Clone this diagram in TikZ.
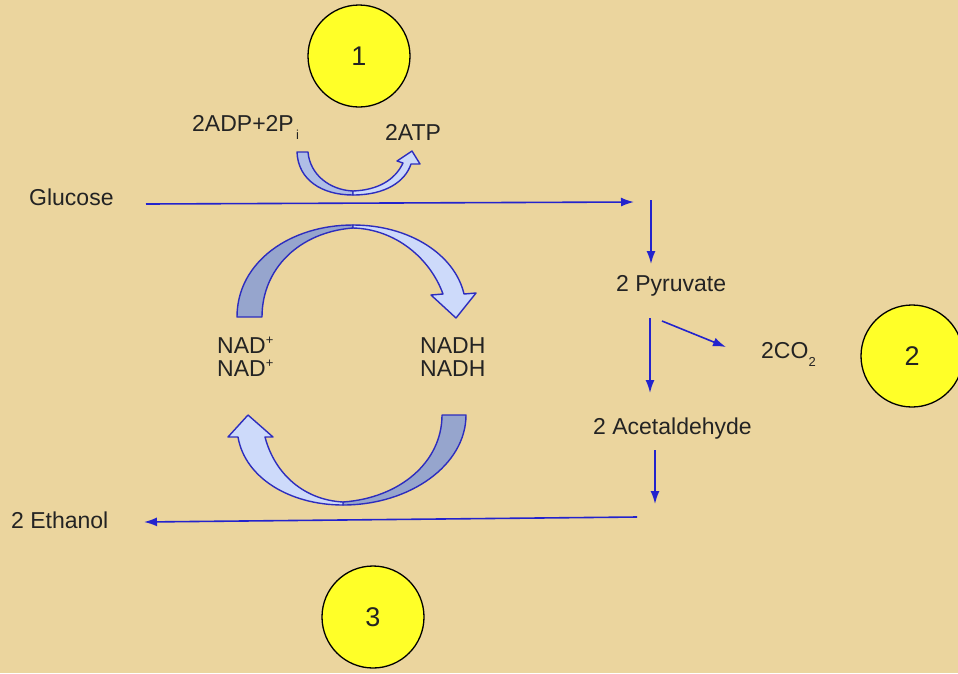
\documentclass[tikz,border=0pt]{standalone}
\usepackage{fontspec}
\setmainfont{Liberation Sans}
\usetikzlibrary{arrows.meta}
\definecolor{bg}{RGB}{235,213,158}
\definecolor{ink}{RGB}{35,35,35}
\definecolor{flowblue}{RGB}{35,35,205}
\definecolor{bandline}{RGB}{45,45,190}
\definecolor{bandlight}{RGB}{205,218,250}
\definecolor{banddark}{RGB}{150,165,205}
\definecolor{bandmid}{RGB}{175,190,230}
\definecolor{badge}{RGB}{255,255,40}
\newcommand{\lowsub}[1]{\raisebox{-0.38em}{\fontsize{13}{13}\selectfont #1}}
\newcommand{\smallsup}[1]{\raisebox{0.38em}{\fontsize{13}{13}\selectfont #1}}
\begin{document}
\begin{tikzpicture}[x=1pt,y=-1pt,
  font=\fontsize{23}{23}\selectfont,
  lbl/.style={inner sep=0pt, text=ink, anchor=base west},
  badgecirc/.style={circle, draw=black, line width=1.3pt, fill=badge, minimum size=102pt, inner sep=0pt, text=ink, font=\fontsize{27}{27}\selectfont},
  flow/.style={draw=flowblue, line width=1.6pt, -{Latex[length=13pt,width=9pt]}},
  bandback/.style={draw=bandline, line width=1.4pt, line join=round, fill=banddark},
  bandsmall/.style={draw=bandline, line width=1.4pt, line join=round, fill=bandmid},
  bandfront/.style={draw=bandline, line width=1.4pt, line join=round, fill=bandlight}]
\fill[bg] (0,0) rectangle (958,673);
\useasboundingbox (0,0) rectangle (958,673);

% badges
\node[badgecirc] (c1) at (359,56) {1};
\node[badgecirc] (c2) at (912,356) {2};
\node[badgecirc] (c3) at (373,617) {3};

% labels
\node[lbl] (adp) at (192,131) {2ADP+2P\lowsub{\,i}};
\node[lbl] (atp) at (385,140) {2ATP};
\node[lbl] (glu) at (29,205) {Glucose};
\node[lbl] (pyr) at (616,291) {2 Pyruvate};
\node[lbl] (co2) at (761,358) {2CO\lowsub{2}};
\node[lbl] (acet) at (593,434) {2 Acetaldehyde};
\node[lbl] (eth) at (11,528) {2 Ethanol};
\node[lbl] (nada) at (217,353) {NAD\smallsup{+}};
\node[lbl] (nadb) at (217,376) {NAD\smallsup{+}};
\node[lbl] (nadha) at (420,353) {NADH};
\node[lbl] (nadhb) at (420,376) {NADH};

% connector end points
\coordinate (gs) at (146,204);
\coordinate (ge) at (634,202);
\coordinate (p1s) at (651,200);
\coordinate (p1e) at (651,264);
\coordinate (p2s) at (650,318);
\coordinate (p2e) at (650,393);
\coordinate (cs) at (662,321);
\coordinate (ce) at (726,347);
\coordinate (a1s) at (655,450);
\coordinate (a1e) at (655,504);
\coordinate (es) at (637,517);
\coordinate (ee) at (144,522);

\draw[flow] (gs) -- (ge);
\draw[flow] (p1s) -- (p1e);
\draw[flow] (p2s) -- (p2e);
\draw[flow] (cs) -- (ce);
\draw[flow] (a1s) -- (a1e);
\draw[flow] (es) -- (ee);

% small ATP arrow
\draw[bandsmall] (297,152) .. controls (298,180) and (322,195) .. (353,195)
  -- (353,191) .. controls (330,190) and (310,175) .. (308,152) -- cycle;
\draw[bandfront] (353,195) .. controls (385,195) and (405,182) .. (411,164)
  -- (420,164) -- (412,151) -- (397,161) -- (403,163)
  .. controls (395,180) and (378,190) .. (353,191) -- cycle;

% big upper arrow (NAD+ -> NADH)
\draw[bandback] (237,317) .. controls (237,262) and (290,225) .. (353,225)
  -- (353,228) .. controls (300,232) and (262,268) .. (262,317) -- cycle;
\draw[bandfront] (353,225) .. controls (410,225) and (455,255) .. (464,294)
  -- (476,293) -- (456,318) -- (431,295) -- (443,294)
  .. controls (430,258) and (395,229) .. (353,228) -- cycle;

% big lower arrow (NADH -> NAD+)
\draw[bandback] (466,415) .. controls (466,465) and (410,505) .. (343,505)
  -- (343,502) .. controls (400,498) and (442,462) .. (442,415) -- cycle;
\draw[bandfront] (343,505) .. controls (290,505) and (245,478) .. (238,437)
  -- (228,437) -- (248,415) -- (273,437) -- (265,437)
  .. controls (275,475) and (305,500) .. (343,502) -- cycle;
\end{tikzpicture}
\end{document}
